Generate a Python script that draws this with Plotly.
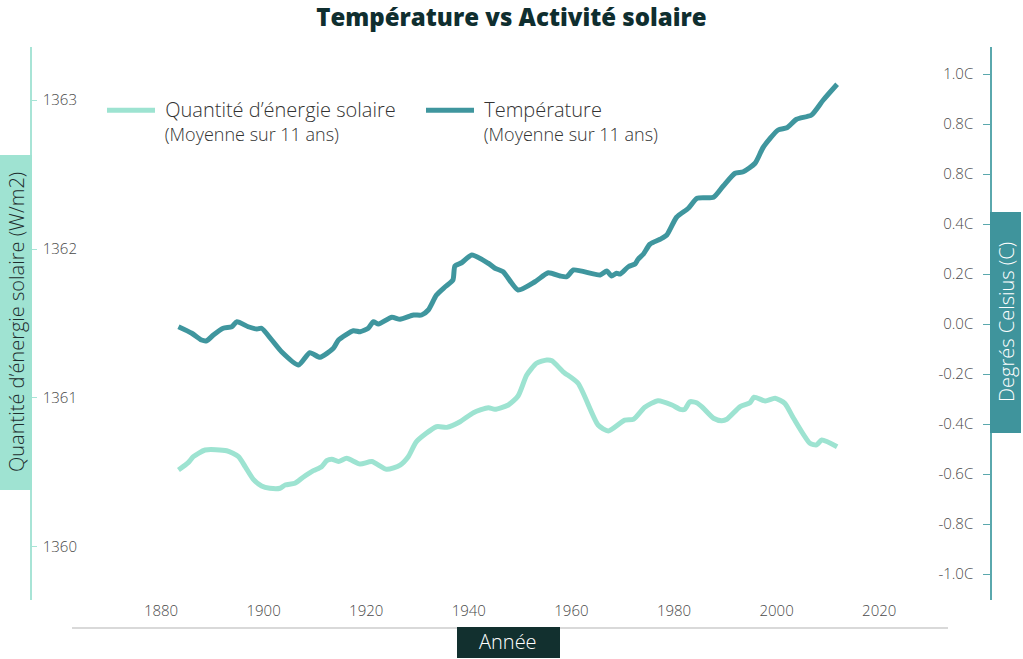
import plotly.graph_objects as go

# ---- data ----
temp_years = [1883.4, 1886.0, 1887.9, 1888.9, 1890.2, 1892.1, 1893.8, 1894.8, 1897.0, 1898.7,
              1899.6, 1901.6, 1903.5, 1906.8, 1909.0, 1911.0, 1913.6, 1914.6, 1917.5, 1918.8,
              1920.4, 1921.4, 1922.4, 1925.0, 1926.6, 1929.2, 1930.8, 1932.1, 1933.7, 1935.4,
              1936.9, 1937.3, 1938.6, 1940.6, 1943.8, 1945.1, 1946.7, 1949.6, 1952.9, 1955.5,
              1957.8, 1959.1, 1960.4, 1965.6, 1966.9, 1967.8, 1968.8, 1969.5, 1971.1, 1972.4,
              1973.0, 1974.0, 1975.3, 1977.3, 1978.6, 1980.5, 1982.8, 1984.5, 1987.7, 1989.6,
              1991.9, 1993.5, 1995.8, 1997.4, 2000.3, 2002.0, 2003.9, 2006.8, 2009.1, 2011.8]
temp_values = [-0.011, -0.037, -0.064, -0.067, -0.044, -0.017, -0.011, 0.009, -0.011, -0.020,
               -0.017, -0.064, -0.111, -0.164, -0.115, -0.133, -0.097, -0.064, -0.027, -0.031,
               -0.017, 0.009, 0.000, 0.027, 0.019, 0.036, 0.036, 0.056, 0.116, 0.149,
               0.176, 0.232, 0.245, 0.276, 0.243, 0.223, 0.209, 0.136, 0.169, 0.205,
               0.192, 0.189, 0.216, 0.196, 0.212, 0.192, 0.203, 0.200, 0.229, 0.240,
               0.259, 0.279, 0.319, 0.339, 0.356, 0.427, 0.463, 0.503, 0.507, 0.552,
               0.603, 0.609, 0.643, 0.707, 0.776, 0.785, 0.819, 0.836, 0.896, 0.959]

solar_years = [1883.4, 1885.3, 1886.3, 1888.6, 1892.8, 1895.1, 1896.4, 1898.0, 1899.6, 1901.2,
               1903.2, 1904.2, 1906.1, 1907.7, 1909.7, 1911.3, 1912.3, 1913.3, 1914.6, 1916.2,
               1918.8, 1921.1, 1924.0, 1926.6, 1928.2, 1929.8, 1933.7, 1935.7, 1938.3, 1940.9,
               1943.8, 1945.1, 1947.7, 1949.6, 1951.3, 1953.2, 1955.2, 1956.2, 1958.4, 1961.3,
               1965.2, 1967.2, 1970.4, 1972.1, 1974.3, 1976.9, 1979.6, 1981.2, 1982.1, 1983.1,
               1984.4, 1985.4, 1987.7, 1989.3, 1990.3, 1992.9, 1994.8, 1995.6, 1997.8, 1999.7,
               2001.6, 2003.3, 2006.5, 2007.8, 2008.8, 2011.8]
solar_values = [1360.517, 1360.566, 1360.606, 1360.651, 1360.646, 1360.606, 1360.539, 1360.454, 1360.409, 1360.394,
                1360.394, 1360.416, 1360.428, 1360.468, 1360.512, 1360.539, 1360.579, 1360.589, 1360.573, 1360.595,
                1360.557, 1360.573, 1360.521, 1360.550, 1360.606, 1360.707, 1360.807, 1360.803, 1360.841, 1360.901,
                1360.935, 1360.924, 1360.953, 1361.013, 1361.154, 1361.233, 1361.255, 1361.250, 1361.176, 1361.099,
                1360.819, 1360.779, 1360.852, 1360.857, 1360.938, 1360.982, 1360.953, 1360.924, 1360.924, 1360.975,
                1360.968, 1360.942, 1360.864, 1360.848, 1360.857, 1360.942, 1360.968, 1361.005, 1360.980, 1360.998,
                1360.964, 1360.864, 1360.696, 1360.685, 1360.718, 1360.673]

x_ticks = [1880, 1900, 1920, 1940, 1960, 1980, 2000, 2020]
solar_ticks = [1360, 1361, 1362, 1363]
temp_tickvals = [-1.0, -0.8, -0.6, -0.4, -0.2, 0.0, 0.2, 0.4, 0.6, 0.8, 1.0]
temp_ticktext = ["-1.0C", "-0.8C", "-0.6C", "-0.4C", "-0.2C", "0.0C", "0.2C", "0.4C", "0.8C", "0.8C", "1.0C"]

title_text = "Température vs Activité solaire"
solar_name = "Quantité d’énergie solaire"
temp_name = "Température"
sub_name = "(Moyenne sur 11 ans)"
solar_axis_title = "Quantité d’énergie solaire (W/m2)"
temp_axis_title = "Degrés Celsius (C)"
x_axis_title = "Année"

SOLAR_C = "#9de3d1"
TEMP_C = "#3f969e"
DARK = "#12302f"
TICK_FONT = dict(family="Open Sans", size=15, color="#4a4a4a", weight=300)

fig = go.Figure()
NB = "\u00a0"
fig.add_trace(go.Scatter(
    x=solar_years, y=solar_values, mode="lines",
    name=f"<span style='font-size:20px'>{NB}{solar_name}</span><br>{NB}{sub_name}",
    line=dict(color=SOLAR_C, width=5, shape="spline", smoothing=0.6),
    yaxis="y"))
fig.add_trace(go.Scatter(
    x=temp_years, y=temp_values, mode="lines",
    name=f"<span style='font-size:20px'>{NB}{temp_name}</span><br>{NB}{sub_name}",
    line=dict(color=TEMP_C, width=5, shape="spline", smoothing=0.6),
    yaxis="y2"))

W, H = 1023, 659
AX_L, AX_R, AX_T, AX_B = 32, 990, 47, 600   # pixel edges of the plot area
L, R, T, B = AX_L, W - AX_R, AX_T, H - AX_B
pw, ph = AX_R - AX_L, AX_B - AX_T

def px_x(p):
    return (p - AX_L) / pw

def px_y(p):
    return (AX_B - p) / ph

fig.update_layout(
    width=W, height=H,
    margin=dict(l=L, r=R, t=T, b=B),
    paper_bgcolor="white", plot_bgcolor="white",
    font=dict(family="Open Sans", color="#333"),
    title=dict(text=title_text, x=0.5, xref="container", xanchor="center",
               y=1 - 18 / H, yref="container", yanchor="middle",
               font=dict(family="Open Sans", size=24, color="#0f2e2f", weight=800)),
    showlegend=True,
    legend=dict(orientation="h", x=px_x(102), y=px_y(92), xanchor="left", yanchor="top",
                valign="top", itemwidth=48, entrywidth=256, entrywidthmode="pixels",
                font=dict(family="Open Sans", size=18, color="#333", weight=300),
                bgcolor="rgba(0,0,0,0)"),
    xaxis=dict(range=[1854.85, 2041.6], tickvals=x_ticks, showgrid=False, zeroline=False,
               showline=False, ticks="", tickfont=TICK_FONT),
    yaxis=dict(range=[1359.644, 1363.356], tickvals=solar_ticks, showgrid=False, zeroline=False,
               showline=True, linecolor="#a8e4d6", linewidth=1.5, ticks="inside", ticklen=5,
               tickcolor="#a8e4d6", ticklabelposition="inside", ticklabelstandoff=6,
               tickfont=TICK_FONT),
    yaxis2=dict(range=[-1.104, 1.108], tickvals=temp_tickvals, ticktext=temp_ticktext,
                overlaying="y", side="right", showgrid=False, zeroline=False,
                showline=True, linecolor="#5aa8ad", linewidth=1.5, ticks="inside", ticklen=7,
                tickcolor="#5aa8ad", ticklabelposition="inside", ticklabelstandoff=10,
                tickfont=TICK_FONT),
    shapes=[
        dict(type="line", xref="paper", yref="paper", x0=px_x(72), x1=px_x(948),
             y0=px_y(628), y1=px_y(628), line=dict(color="#d9d9d9", width=2), layer="below"),
        dict(type="rect", xref="paper", yref="paper", x0=px_x(0), x1=px_x(32),
             y0=px_y(490), y1=px_y(155), fillcolor="#9fe3d2", line=dict(width=0)),
        dict(type="rect", xref="paper", yref="paper", x0=px_x(990), x1=px_x(1021),
             y0=px_y(433), y1=px_y(212), fillcolor="#3f949c", line=dict(width=0)),
        dict(type="rect", xref="paper", yref="paper", x0=px_x(457), x1=px_x(560),
             y0=px_y(658), y1=px_y(627), fillcolor=DARK, line=dict(width=0)),
    ],
    annotations=[
        dict(text=solar_axis_title, xref="paper", yref="paper", x=px_x(16), y=px_y(322),
             textangle=-90, showarrow=False, xanchor="center", yanchor="middle",
             font=dict(family="Open Sans", size=20, color="#1e2e2e", weight=300)),
        dict(text=temp_axis_title, xref="paper", yref="paper", x=px_x(1006), y=px_y(322),
             textangle=-90, showarrow=False, xanchor="center", yanchor="middle",
             font=dict(family="Open Sans", size=20, color="white", weight=300)),
        dict(text=x_axis_title, xref="paper", yref="paper", x=px_x(508), y=px_y(641),
             showarrow=False, xanchor="center", yanchor="middle",
             font=dict(family="Open Sans", size=20, color="white", weight=300)),
    ],
)

# remove the browser's default 8px body margin so the figure sits at the page origin
fig.write_html("out.html",
               config={"displayModeBar": False},
               post_script="document.body.style.margin='0px'; document.body.style.overflow='hidden';")
